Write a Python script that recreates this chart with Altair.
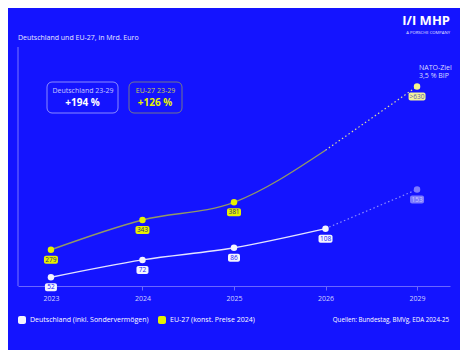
import altair as alt
import pandas as pd

# ---------------- data ----------------
years = ["2023", "2024", "2025", "2026", "2029"]
de_values = [52, 72, 86, 108, 153]
de_labels = ["52", "72", "86", "108", "153"]
eu_years = ["2023", "2024", "2025", "2029"]
eu_values = [279, 343, 381, 630]
eu_labels = ["279", "343", "381", ">630"]
# EU solid line ends at 2026 without a marker
eu_line_years = ["2023", "2024", "2025", "2026"]
eu_line_values = [279, 343, 381, 493]
eu_dotted_years = ["2026", "2029"]
eu_dotted_values = [493, 630]
de_solid_years = ["2023", "2024", "2025", "2026"]
de_dotted_years = ["2026", "2029"]

title_text = "Deutschland und EU-27, in Mrd. Euro"
legend_de = "Deutschland (inkl. Sondervermögen)"
legend_eu = "EU-27 (konst. Preise 2024)"
source_text = "Quellen: Bundestag, BMVg, EDA 2024-25"
box_de = ["Deutschland 23-29", "+194 %"]
box_eu = ["EU-27 23-29", "+126 %"]
nato_text = ["NATO-Ziel", "3,5 % BIP"]

BG = "#1414ff"
YEL = "#e6f000"
FONT = "Open Sans"

de_df = pd.DataFrame({"year": years, "value": de_values, "label": de_labels})
eu_df = pd.DataFrame({"year": eu_years, "value": eu_values, "label": eu_labels})
de_solid = de_df[de_df.year.isin(de_solid_years)]
de_dotted = de_df[de_df.year.isin(de_dotted_years)]
eu_solid = pd.DataFrame({"year": eu_line_years, "value": eu_line_values})
eu_dot = pd.DataFrame({"year": eu_dotted_years, "value": eu_dotted_values})

x_axis = alt.Axis(title="", domainColor="#6a66ff", domainWidth=1.2, tickColor="#6a66ff",
                  tickSize=4, tickWidth=1, labelColor="#d0d0ff", labelFont=FONT,
                  labelFontSize=7, labelPadding=4, grid=False, labelAngle=0)


def X():
    return alt.X("year:N", scale=alt.Scale(type="point", domain=years, padding=0.36), axis=x_axis)


def Y(domain):
    return alt.Y("value:Q", scale=alt.Scale(domain=domain, zero=False, nice=False), axis=None)


DE_DOM = [42, 317]
EU_DOM = [201, 715]
is29 = "datum.year == '2029'"


def series_layers(df, solid, dotted, dom, line_color, line_op, dot_color, pt_col, pt29, b_col, b29, t_col, t29):
    ls = alt.Chart(solid).mark_line(interpolate="monotone", color=line_color, strokeWidth=1.4,
                                    opacity=line_op).encode(x=X(), y=Y(dom))
    ld = alt.Chart(dotted).mark_line(color=dot_color, strokeWidth=1.2,
                                     strokeDash=[1.5, 2.5]).encode(x=X(), y=Y(dom))
    pts = alt.Chart(df).mark_circle(size=42, opacity=1).encode(
        x=X(), y=Y(dom), color=alt.condition(is29, alt.value(pt29), alt.value(pt_col)))
    layers = [ls, ld, pts]
    for n, w in [(2, 12), (3, 14), (4, 17)]:
        sub = alt.Chart(df).transform_filter(f"length(datum.label) == {n}").mark_rect(
            cornerRadius=2, xOffset=-w / 2, x2Offset=w / 2, yOffset=6, y2Offset=14
        ).encode(x=X(), x2=alt.X2("year:N"), y=Y(dom), y2=alt.Y2("value:Q"),
                 color=alt.condition(is29, alt.value(b29), alt.value(b_col)))
        layers.append(sub)
    txt = alt.Chart(df).mark_text(font=FONT, fontSize=6.5, baseline="middle", align="center",
                                  yOffset=10).encode(
        x=X(), y=Y(dom), text="label:N",
        color=alt.condition(is29, alt.value(t29), alt.value(t_col)))
    layers.append(txt)
    return layers


de_layers = series_layers(de_df, de_solid, de_dotted, DE_DOM, "#e4e4ff", 1.0, "#8c8cff",
                          "#f4f4ff", "#7c7aff", "#f4f4ff", "#7c7aff", BG, "#c4c4ff")
eu_layers = series_layers(eu_df, eu_solid, eu_dot, EU_DOM, YEL, 0.6, "#dcdca0",
                          YEL, "#f4f48c", YEL, "#f2f29a", "#2a2a7a", "#5a5ab4")

one = pd.DataFrame({"t": [0]})


def text(txt, x, y, size, color, align="left", weight="normal"):
    return alt.Chart(pd.DataFrame({"t": [txt]})).mark_text(
        align=align, baseline="middle", fontSize=size, color=color, font=FONT, fontWeight=weight
    ).encode(x=alt.value(x), y=alt.value(y), text="t:N")


def box(x, x2, y, y2, stroke, op, radius=5, fill=None):
    if fill is None:
        m = alt.Chart(one).mark_rect(fillOpacity=0, stroke=stroke, strokeOpacity=op,
                                     strokeWidth=1, cornerRadius=radius)
    else:
        m = alt.Chart(one).mark_rect(color=fill, cornerRadius=radius)
    return m.encode(x=alt.value(x), x2=alt.value(x2), y=alt.value(y), y2=alt.value(y2))


annos = [
    alt.Chart(one).mark_rule(color="#6a66ff", strokeWidth=1.2).encode(
        x=alt.value(0), y=alt.value(0), y2=alt.value(239)),
    text(title_text, 0, -9, 7, "#e8e8ff"),
    text("I/I MHP", 432, -26, 13, "#ffffff", align="right", weight="bold"),
    text("A PORSCHE COMPANY", 432, -14, 4.2, "#e0e0ff", align="right"),
    box(29, 100, 35, 66, "#ffffff", 0.5),
    box(111, 164, 35, 66, YEL, 0.45),
    text(box_de[0], 65, 44, 7, "#c8c8ff", align="center"),
    text(box_de[1], 64.5, 55.5, 10, "#ffffff", align="center", weight="bold"),
    text(box_eu[0], 137.5, 44, 7, "#c8cc50", align="center"),
    text(box_eu[1], 137, 55.5, 10, YEL, align="center", weight="bold"),
    text(nato_text[0], 401, 21, 7, "#dcdcff"),
    text(nato_text[1], 401, 29, 7, "#dcdcff"),
    box(0, 8, 269, 277, None, 1, radius=2, fill="#f4f4ff"),
    text(legend_de, 12, 273, 7, "#ffffff"),
    box(140, 148, 269, 277, None, 1, radius=2, fill=YEL),
    text(legend_eu, 152, 273, 7, "#ffffff"),
    text(source_text, 431, 273, 6.2, "#ffffff", align="right"),
]

chart = alt.layer(*de_layers, *eu_layers, *annos).resolve_scale(y="independent").properties(
    width=432, height=239,
    autosize=alt.AutoSizeParams(type="none"),
    padding={"left": 10, "top": 39, "right": 10, "bottom": 64},
    background=BG,
).configure_view(stroke=None)

chart.save("out.html", embed_options={"renderer": "svg", "actions": False})
